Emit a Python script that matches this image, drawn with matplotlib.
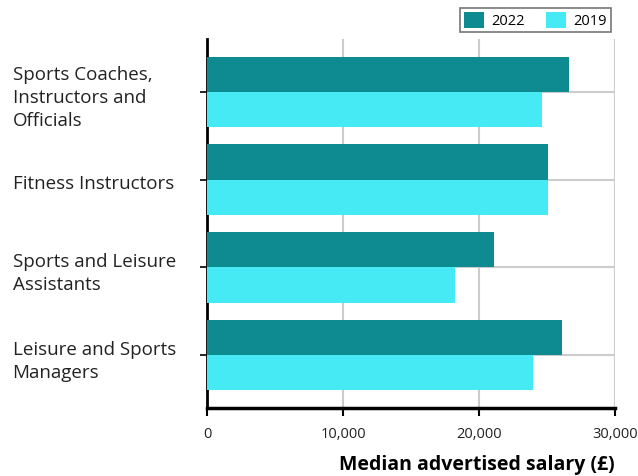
import numpy as np
import matplotlib
matplotlib.use("Agg")
import matplotlib.pyplot as plt
import matplotlib.transforms as mtransforms

categories = ["Sports Coaches,\nInstructors and\nOfficials",
              "Fitness Instructors",
              "Sports and Leisure\nAssistants",
              "Leisure and Sports\nManagers"]
salary_2022 = [26600, 25100, 21100, 26100]
salary_2019 = [24600, 25100, 18200, 24000]
xticks = [0, 10000, 20000, 30000]
xtick_labels = ["0", "10,000", "20,000", "30,000"]

plt.rcParams["font.family"] = ["Open Sans", "DejaVu Sans"]

fig = plt.figure(figsize=(6.38, 4.76), dpi=100)
ax = fig.add_axes([0.3245, 0.143, 0.6395, 0.775])

y = np.arange(len(categories))
h = 0.4
ax.barh(y - h / 2, salary_2022, height=h, color="#0E8A91", label="2022", zorder=3)
ax.barh(y + h / 2, salary_2019, height=h, color="#45EAF5", label="2019", zorder=3)

ax.set_xlim(0, 30000)
ax.set_ylim(3.6, -0.6)
ax.set_xticks(xticks)
ax.set_xticklabels(xtick_labels, fontsize=10.5, color="#222222")
ax.set_yticks(y)
ax.set_yticklabels(categories, fontsize=13.5, color="#222222", ha="left", linespacing=1.35)
ax.tick_params(axis="y", pad=135, length=5, width=1.2)
ax.tick_params(axis="x", length=6, width=1.5, pad=8)

# nudge category labels down a little
shift = mtransforms.ScaledTranslation(0, -1.5 / 72, fig.dpi_scale_trans)
for lbl in ax.get_yticklabels():
    lbl.set_transform(lbl.get_transform() + shift)

ax.grid(True, color="#cccccc", linewidth=1.5, zorder=0)
ax.set_axisbelow(True)
for s in ["top", "right"]:
    ax.spines[s].set_visible(False)
ax.spines["left"].set_linewidth(2)
ax.spines["bottom"].set_linewidth(2.5)

ax.set_xlabel("Median advertised salary (£)", fontsize=14, fontweight="bold",
              loc="right", labelpad=9)

leg = ax.legend(loc="lower right", bbox_to_anchor=(1.005, 1.0), ncol=2, frameon=True,
                fancybox=False, edgecolor="#555555", fontsize=10.5,
                handlelength=1.35, handleheight=1.35, columnspacing=1.5,
                borderpad=0.25, handletextpad=0.5, borderaxespad=0.45)
leg.get_frame().set_linewidth(1.2)

fig.savefig("out.png", dpi=100)
